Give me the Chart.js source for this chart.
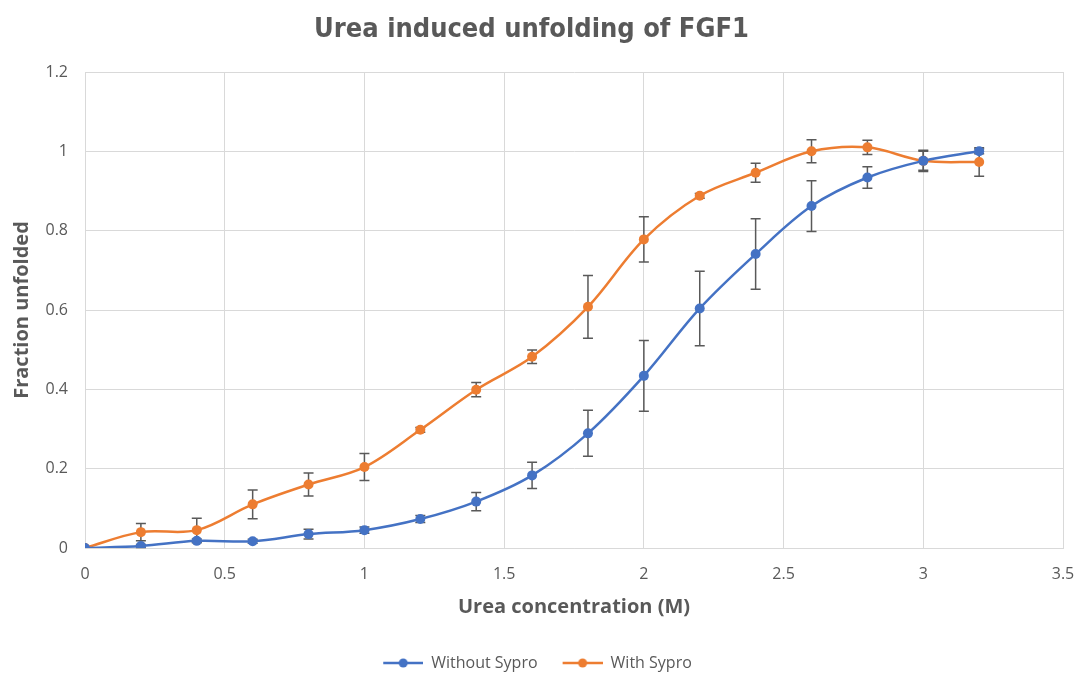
<!DOCTYPE html>
<html>
<head>
<meta charset="utf-8">
<script src="https://cdn.jsdelivr.net/npm/chart.js@4.4.1/dist/chart.umd.min.js"></script>
<style>
  html, body { margin: 0; padding: 0; background: #ffffff; }
  #wrap { width: 1076px; height: 678px; }
</style>
</head>
<body>
<div id="wrap"><canvas id="chart" width="1076" height="678"></canvas></div>
<script>
// urea concentration (M)
const concentrations = [0, 0.2, 0.4, 0.6, 0.8, 1.0, 1.2, 1.4, 1.6, 1.8, 2.0, 2.2, 2.4, 2.6, 2.8, 3.0, 3.2]

// fraction unfolded, mean and error half-width
const withoutSypro = [0, 0.005, 0.018, 0.017, 0.035, 0.045, 0.073, 0.117, 0.183, 0.289, 0.434, 0.604, 0.741, 0.862, 0.934, 0.976, 1.0]
const withoutSyproErr = [0, 0.004, 0.005, 0.005, 0.012, 0.008, 0.009, 0.023, 0.033, 0.058, 0.089, 0.094, 0.089, 0.064, 0.027, 0.027, 0.006]
const withSypro = [0, 0.040, 0.045, 0.110, 0.160, 0.204, 0.298, 0.399, 0.482, 0.608, 0.778, 0.888, 0.946, 1.0, 1.010, 0.976, 0.973]
const withSyproErr = [0, 0.022, 0.030, 0.036, 0.029, 0.034, 0.006, 0.018, 0.017, 0.079, 0.057, 0.006, 0.024, 0.029, 0.018, 0.024, 0.036]

const xTicks = [0, 0.5, 1, 1.5, 2, 2.5, 3, 3.5]
const yTicks = [0, 0.2, 0.4, 0.6, 0.8, 1, 1.2]

const BLUE = '#4472c4'
const ORANGE = '#ed7d31'
const TEXT = '#595959'
const GRID = '#d9d9d9'
const FONT = '"Open Sans", "Liberation Sans", sans-serif'

const toPoints = (ys) => ys.map((y, i) => ({ x: concentrations[i], y }))

// line-with-dot swatch for the legend; the blank strip on the left spaces the items
function swatch(color) {
  const c = document.createElement('canvas')
  c.width = 52
  c.height = 12
  const g = c.getContext('2d')
  g.strokeStyle = color
  g.lineWidth = 2.5
  g.beginPath()
  g.moveTo(12, 6)
  g.lineTo(52, 6)
  g.stroke()
  g.fillStyle = color
  g.beginPath()
  g.arc(32, 6, 4.5, 0, Math.PI * 2)
  g.fill()
  return c
}

const whiteBg = {
  id: 'whiteBg',
  beforeDraw(chart) {
    const { ctx } = chart
    ctx.save()
    ctx.fillStyle = '#ffffff'
    ctx.fillRect(0, 0, chart.width, chart.height)
    ctx.restore()
  },
}

// vertical error bars with caps, drawn under the markers
const errorBars = {
  id: 'errorBars',
  beforeDatasetsDraw(chart) {
    const { ctx, scales: { x, y } } = chart
    ctx.save()
    ctx.strokeStyle = TEXT
    ctx.lineWidth = 1.5
    chart.data.datasets.forEach((ds) => {
      ds.errors.forEach((err, i) => {
        if (!err) return
        const px = x.getPixelForValue(ds.data[i].x)
        const top = y.getPixelForValue(ds.data[i].y + err)
        const bot = y.getPixelForValue(ds.data[i].y - err)
        ctx.beginPath()
        ctx.moveTo(px, top)
        ctx.lineTo(px, bot)
        ctx.moveTo(px - 5, top)
        ctx.lineTo(px + 5, top)
        ctx.moveTo(px - 5, bot)
        ctx.lineTo(px + 5, bot)
        ctx.stroke()
      })
    })
    ctx.restore()
  },
}

const series = [
  { label: 'Without Sypro', values: withoutSypro, errors: withoutSyproErr, color: BLUE },
  { label: 'With Sypro', values: withSypro, errors: withSyproErr, color: ORANGE },
]

new Chart(document.getElementById('chart'), {
  type: 'line',
  data: {
    datasets: series.map((s) => ({
      label: s.label,
      data: toPoints(s.values),
      errors: s.errors,
      borderColor: s.color,
      backgroundColor: s.color,
      borderWidth: 2.5,
      pointRadius: 5,
      pointBorderWidth: 0,
      pointBackgroundColor: s.color,
      tension: 0.35,
      fill: false,
    })),
  },
  options: {
    responsive: false,
    animation: false,
    layout: { padding: { left: 0, right: 13, top: 0, bottom: -3 } },
    plugins: {
      title: {
        display: true,
        text: 'Urea induced unfolding of FGF1',
        color: TEXT,
        font: { family: '"Liberation Sans Narrow", "DejaVu Sans Condensed", sans-serif', size: 27, weight: 'bold' },
        padding: { top: 14, bottom: 25.6 },
      },
      legend: {
        position: 'bottom',
        labels: {
          color: TEXT,
          font: { family: FONT, size: 16 },
          usePointStyle: true,
          pointStyleWidth: 52,
          padding: 13,
          generateLabels(chart) {
            return chart.data.datasets.map((ds, i) => ({
              text: ds.label,
              pointStyle: swatch(ds.borderColor),
              fillStyle: ds.borderColor,
              strokeStyle: ds.borderColor,
              lineWidth: 0,
              fontColor: TEXT,
              datasetIndex: i,
              hidden: false,
            }))
          },
        },
      },
      tooltip: { enabled: false },
    },
    scales: {
      x: {
        type: 'linear',
        min: 0,
        max: 3.5,
        afterBuildTicks(scale) {
          scale.ticks = xTicks.map((v) => ({ value: v }))
        },
        afterFit(scale) {
          scale.height = 681 - 548 - scale.chart.legend.height
          scale.paddingLeft = 0
          scale.paddingRight = 0
        },
        ticks: {
          color: TEXT,
          font: { family: FONT, size: 16 },
          padding: 17,
          maxRotation: 0,
          callback: (v) => String(v),
        },
        grid: { color: GRID, lineWidth: 1, drawTicks: false },
        border: { color: GRID },
        title: {
          display: true,
          text: 'Urea concentration (M)',
          color: TEXT,
          font: { family: FONT, size: 20, weight: 'bold' },
          padding: { top: 0, bottom: 23 },
        },
      },
      y: {
        type: 'linear',
        min: 0,
        max: 1.2,
        afterBuildTicks(scale) {
          scale.ticks = yTicks.map((v) => ({ value: v }))
        },
        afterFit(scale) {
          scale.width = 85
          scale.paddingTop = 0
          scale.paddingBottom = 0
        },
        ticks: {
          color: TEXT,
          font: { family: FONT, size: 16 },
          padding: 17,
          callback: (v) => String(v),
        },
        grid: { color: GRID, lineWidth: 1, drawTicks: false },
        border: { color: GRID },
        title: {
          display: true,
          text: 'Fraction unfolded',
          color: TEXT,
          font: { family: FONT, size: 20, weight: 'bold' },
          padding: { top: 10, bottom: 0 },
        },
      },
    },
  },
  plugins: [whiteBg, errorBars],
})
</script>
</body>
</html>
